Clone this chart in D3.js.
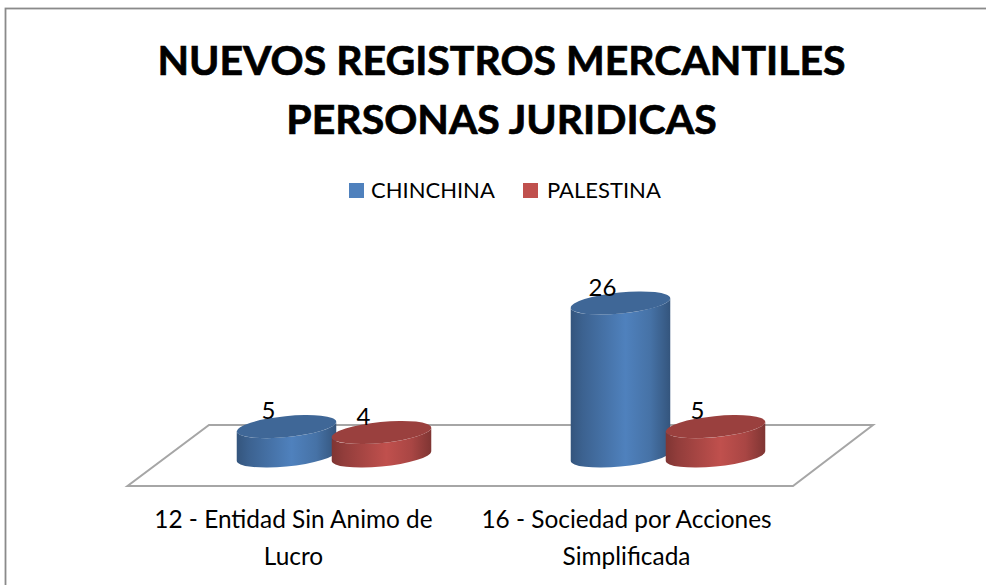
<!DOCTYPE html>
<html><head><meta charset="utf-8">
<script src="https://cdn.jsdelivr.net/npm/d3@7/dist/d3.min.js"></script>
<style>html,body{margin:0;padding:0;background:#fff}svg{display:block}text{font-family:Lato,"Open Sans",sans-serif;fill:#000}</style>
</head><body><div id="c"></div>
<script>
const titleLines = ["NUEVOS REGISTROS MERCANTILES", "PERSONAS JURIDICAS"];
const seriesNames = ["CHINCHINA", "PALESTINA"];
const seriesColors = ["#4F81BD", "#C0504D"];
const categoryLines = [["12 - Entidad Sin Animo de", "Lucro"], ["16 - Sociedad por Acciones", "Simplificada"]];
const categoryKeys = ["c12", "c16"];
const chinchina = [5, 26];
const palestina = [4, 5];
const W = 986, H = 585;
const svg = d3.select("#c").append("svg").attr("width", W).attr("height", H);
const defs = svg.append("defs");
// chart frame runs past the right and bottom edges of the picture
svg.append("rect").attr("x", 5.5).attr("y", 8.5).attr("width", 1000).attr("height", 600).attr("fill", "#fff").attr("stroke", "#8a8a8a").attr("stroke-width", 1.8);

titleLines.forEach((t, i) => svg.append("text").attr("x", 501.5).attr("y", 75 + i * 59).attr("text-anchor", "middle").attr("font-size", 41).attr("font-weight", 700).attr("stroke", "#000").attr("stroke-width", 0.7).text(t));

// legend
const legendX = [349, 523];
seriesNames.forEach((n, i) => {
  svg.append("rect").attr("x", legendX[i]).attr("y", 183).attr("width", 15).attr("height", 15).attr("fill", seriesColors[i]);
  svg.append("text").attr("x", legendX[i] + 22 + i * 2).attr("y", 198).attr("font-size", 22).text(n);
});

// scales
const x0 = d3.scaleBand().domain(categoryKeys).range([167, 835]);
const xOff = d3.scaleOrdinal().domain([0, 1]).range([-47.5, 47.5]);
const y = d3.scaleLinear().domain([0, 26]).range([456, 303]);

// floor
const floor = [[209, 425], [873, 425], [793, 486], [127.5, 486]];
svg.append("path").attr("d", d3.line()(floor) + "Z").attr("fill", "#fff").attr("stroke", "#a6a6a6").attr("stroke-width", 2);

// gradients
function grad(id, c) {
  const g = defs.append("linearGradient").attr("id", id);
  const base = d3.color(c);
  const stops = [[0, 0.66], [0.12, 0.76], [0.55, 1], [0.8, 0.88], [1, 0.66]];
  stops.forEach(([o, k]) => g.append("stop").attr("offset", o).attr("stop-color", d3.rgb(base.r * k, base.g * k, base.b * k)));
}
seriesColors.forEach((c, i) => grad("g" + i, c));

const rx = 50, ry = 10.5, tilt = -5.7;
const th = tilt * Math.PI / 180;
const hx = Math.sqrt(rx * rx * Math.cos(th) ** 2 + ry * ry * Math.sin(th) ** 2);
const hy = (rx * rx - ry * ry) * Math.sin(th) * Math.cos(th) / hx; // y offset of rightmost point

const marks = [];
[chinchina, palestina].forEach((vals, s) => vals.forEach((v, i) => marks.push({ s, v, cx: x0(categoryKeys[i]) + x0.bandwidth() / 2 + xOff(s) })));
marks.sort((a, b) => a.cx - b.cx);

const g = svg.append("g");
marks.forEach(d => {
  const yt = y(d.v), yb = y(0), c = seriesColors[d.s];
  const el = g.append("g");
  const side = `M${d.cx - hx},${yt - hy} L${d.cx - hx},${yb - hy} A${rx},${ry} ${tilt} 0 0 ${d.cx + hx},${yb + hy} L${d.cx + hx},${yt + hy} A${rx},${ry} ${tilt} 0 1 ${d.cx - hx},${yt - hy} Z`;
  el.append("path").attr("d", side).attr("fill", `url(#g${d.s})`);
  const k = 0.8, b = d3.color(c);
  el.append("ellipse").attr("cx", d.cx).attr("cy", yt).attr("rx", rx).attr("ry", ry)
    .attr("transform", `rotate(${tilt} ${d.cx} ${yt})`).attr("fill", d3.rgb(b.r * k, b.g * k, b.b * k));
});
// labels
marks.forEach(d => {
  g.append("text").attr("x", d.cx - 18).attr("y", y(d.v) - 7.5).attr("text-anchor", "middle").attr("font-size", 24).text(d.v);
});

// category labels
categoryLines.forEach((ls, i) => ls.forEach((l, j) => {
  svg.append("text").attr("x", [293.5, 626.5][i]).attr("y", 528 + j * 37).attr("text-anchor", "middle").attr("font-size", 24.4).text(l);
}));
</script></body></html>
